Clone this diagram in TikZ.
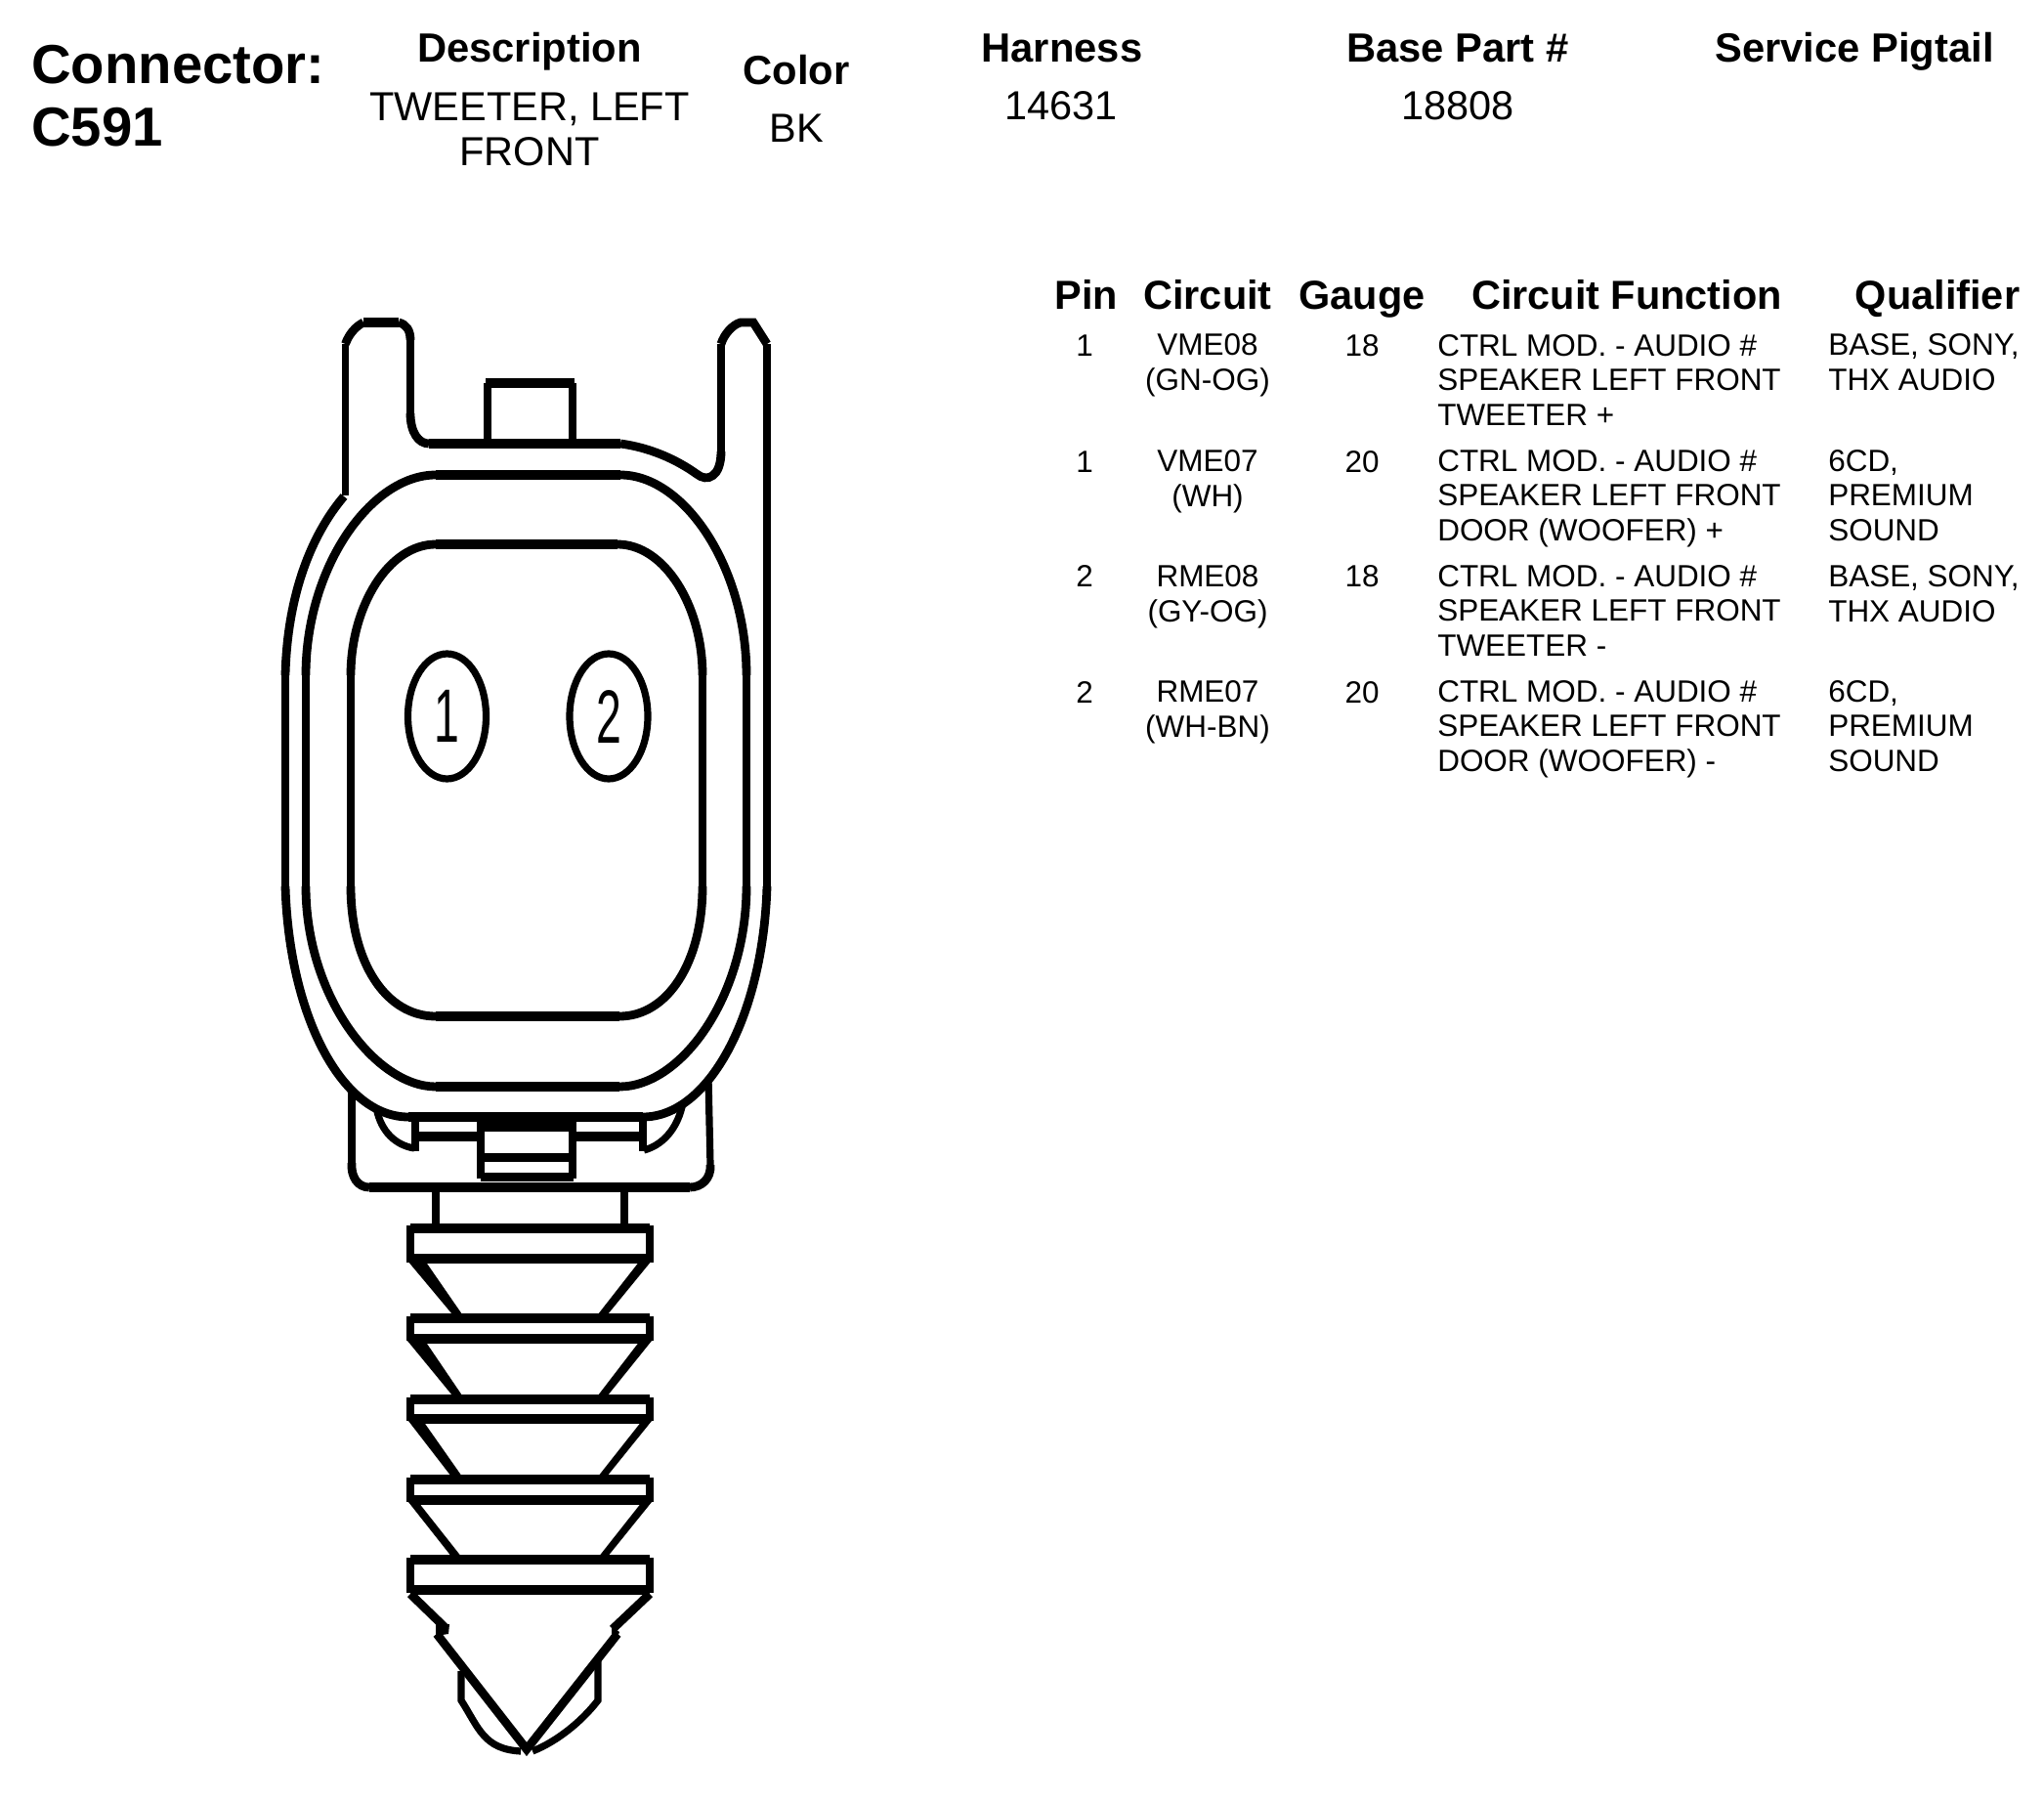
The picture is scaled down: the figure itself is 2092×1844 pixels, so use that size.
\documentclass[tikz,border=0pt]{standalone}
\usepackage{fontspec}
\setmainfont{Liberation Sans}
\usetikzlibrary{shapes.geometric}
\tikzset{
  thinwall/.style={line width=5.4pt},
  midwall/.style={line width=6.6pt},
  thickwall/.style={line width=8pt},
  bighead/.style={anchor=base west,inner sep=0pt,font=\fontsize{42.2}{47}\selectfont\bfseries},
  tophead/.style={anchor=base,inner sep=0pt,font=\fontsize{31.3}{34}\selectfont\bfseries},
  topcell/.style={anchor=base,inner sep=0pt,align=center,font=\fontsize{31.1}{34.5}\selectfont},
  tablehead/.style={anchor=base,inner sep=0pt,font=\fontsize{31.1}{36}\selectfont\bfseries},
  tablecell/.style={anchor=base,inner sep=0pt,align=center,font=\fontsize{23.6}{26.5}\selectfont},
  tableleft/.style={anchor=base west,inner sep=0pt,align=left,font=\fontsize{23.6}{26.5}\selectfont},
  pinhole/.style={draw,ellipse,line width=5.4pt,inner sep=0pt,minimum width=60pt,minimum height=96pt,font=\fontsize{58}{60}\selectfont}
}
\begin{document}
\begin{tikzpicture}[x=0.75pt,y=0.75pt,yscale=-1,xscale=1]
\useasboundingbox (0,0) rectangle (2092,1844);

% top tabs and outer wall
\draw [thinwall] (353.5,507) -- (353.5,352);
\draw [midwall] (353.5,352) .. controls (357,342) and (364,334) .. (372,330);
\draw [thickwall] (372,330) -- (408,330);
\draw [midwall] (408,330) .. controls (416,332) and (420,338) .. (420,348);
\draw [thinwall] (420,348) -- (420,423);
\draw [midwall] (420,423) .. controls (420,442) and (428,454) .. (439,454);
\draw [thickwall] (439,454) -- (635,454);
\draw [midwall] (635,454) .. controls (665,458) and (692,470) .. (713,485) .. controls (724,494) and (738,488) .. (738,462);
\draw [thinwall] (738,462) -- (738,352);
\draw [midwall] (738,352) .. controls (741,342) and (750,332) .. (758,330) -- (771,330) -- (785,352);
\draw [thinwall] (785,352) -- (785,907);
\draw [midwall] (785,907) .. controls (781,1040) and (725,1143) .. (658,1143);
\draw [thickwall] (658,1143) -- (418,1143);
\draw [midwall] (418,1143) .. controls (350,1143) and (296,1040) .. (292,907);
\draw [thinwall] (292,907) -- (292,691);
\draw [midwall] (292,691) .. controls (294,610) and (318,548) .. (352,508);

% small block between the tabs
\draw [thinwall] (499,454) -- (499,392);
\draw [thinwall] (586,454) -- (586,392);
\draw [thickwall] (497,392) -- (588,392);

% middle ring
\draw [thickwall] (446,486) -- (635,486);
\draw [midwall] (635,486) .. controls (700,486) and (764,580) .. (764,691);
\draw [thinwall] (764,691) -- (764,907);
\draw [midwall] (764,907) .. controls (764,1020) and (697,1112) .. (634,1112);
\draw [thickwall] (634,1112) -- (446,1112);
\draw [midwall] (446,1112) .. controls (385,1112) and (313,1020) .. (313,907);
\draw [thinwall] (313,907) -- (313,691);
\draw [midwall] (313,691) .. controls (313,580) and (380,486) .. (446,486);

% inner ring
\draw [thickwall] (446,557) -- (632,557);
\draw [midwall] (632,557) .. controls (680,557) and (719,620) .. (719,691);
\draw [thinwall] (719,691) -- (719,907);
\draw [midwall] (719,907) .. controls (719,985) and (683,1040) .. (634,1040);
\draw [thickwall] (634,1040) -- (446,1040);
\draw [midwall] (446,1040) .. controls (395,1040) and (359,985) .. (359,907);
\draw [thinwall] (359,907) -- (359,691);
\draw [midwall] (359,691) .. controls (359,620) and (398,557) .. (446,557);

% pins
\node [pinhole] (pinone) at (457.5,733) {\scalebox{0.6}[1]{1}};
\node [pinhole] (pintwo) at (623,733) {\scalebox{0.6}[1]{2}};

% housing below the rings
\draw [thinwall] (360,1117) -- (360,1190);
\draw [midwall] (360,1190) .. controls (359,1204) and (366,1215) .. (378,1215);
\draw [thickwall] (378,1215) -- (706,1215);
\draw [midwall] (706,1215) .. controls (718,1215) and (728,1206) .. (727,1192);
\draw [thinwall] (727,1192) -- (725,1103);

% latch detail
\draw [thinwall] (385.5,1135) .. controls (390,1158) and (405,1172) .. (424,1175);
\draw [thinwall] (699,1128) .. controls (694,1155) and (678,1172) .. (659,1177);
\draw [thinwall] (425,1145) -- (425,1178);
\draw [thinwall] (658,1145) -- (658,1178);
\draw [thickwall] (425,1163) -- (492,1163);
\draw [thickwall] (586,1163) -- (658,1163);
\draw [thinwall] (492,1143) -- (492,1206);
\draw [thinwall] (586,1143) -- (586,1206);
\fill (489,1142) rectangle (589,1158);
\fill (492,1180) rectangle (586,1189);
\fill (492,1200) rectangle (587,1209);

% neck
\draw [thinwall] (446,1215) -- (446,1254);
\draw [thinwall] (639,1215) -- (639,1254);

% first rib
\draw [thickwall] (420,1257) -- (665,1257);
\draw [thinwall] (420,1254) -- (420,1292);
\draw [thinwall] (665,1254) -- (665,1292);
\draw [thickwall] (420,1288) -- (665,1288);
\fill (417,1290) -- (435,1290) -- (473,1345) -- (463,1345) -- cycle;
\fill (667,1290) -- (655,1290) -- (612,1345) -- (622,1345) -- cycle;

% second rib
\draw [thickwall] (420,1349) -- (665,1349);
\draw [thinwall] (420,1347) -- (420,1372);
\draw [thinwall] (665,1347) -- (665,1372);
\draw [thickwall] (420,1370) -- (665,1370);
\fill (417,1372) -- (435,1372) -- (473,1428) -- (463,1428) -- cycle;
\fill (667,1372) -- (655,1372) -- (612,1428) -- (622,1428) -- cycle;

% third rib
\draw [thickwall] (420,1432) -- (665,1432);
\draw [thinwall] (420,1430) -- (420,1454);
\draw [thinwall] (665,1430) -- (665,1454);
\draw [thickwall] (420,1452) -- (665,1452);
\fill (418,1454) -- (433,1454) -- (473,1511) -- (462,1511) -- cycle;
\fill (667,1454) -- (657,1454) -- (612,1511) -- (621,1511) -- cycle;

% fourth rib
\draw [thickwall] (420,1514) -- (665,1514);
\draw [thinwall] (420,1512) -- (420,1537);
\draw [thinwall] (665,1512) -- (665,1537);
\draw [thickwall] (420,1535) -- (665,1535);
\fill (418,1537) -- (428,1537) -- (473,1594) -- (463,1594) -- cycle;
\fill (667,1537) -- (657,1537) -- (612,1594) -- (621,1594) -- cycle;

% fifth rib
\draw [thickwall] (420,1596) -- (665,1596);
\draw [thinwall] (420,1594) -- (420,1630);
\draw [thinwall] (665,1594) -- (665,1630);
\draw [thickwall] (420,1627) -- (665,1627);

% tip
\draw [midwall] (420,1631) -- (455,1665);
\draw [midwall] (665,1631) -- (627,1667);
\fill (446,1662) -- (460,1662) -- (459,1672) -- (446,1674) -- cycle;
\fill (626,1664) -- (634,1670) -- (632,1675) -- (626,1672) -- cycle;
\draw [midwall] (447,1672) -- (539,1790) -- (632,1672);
\draw [thinwall] (472,1710) -- (472,1740) .. controls (490,1768) and (495,1790) .. (533,1792);
\draw [thinwall] (612,1698) -- (612,1740) .. controls (595,1762) and (570,1782) .. (545,1792);

% Text Node
\node [bighead] (connlabel) at (32,86) {Connector:};
\node [bighead] (connid) at (32,150) {C591};
\node [tophead] (deschead) at (542,64) {Description};
\node [topcell] (descval) at (542,170) {TWEETER, LEFT\\FRONT};
\node [tophead] (colorhead) at (815,87) {Color};
\node [topcell] (colorval) at (815,146) {BK};
\node [tophead] (harnesshead) at (1087,64) {Harness};
\node [topcell] (harnessval) at (1086,123) {14631};
\node [tophead] (basehead) at (1492,64) {Base Part \#};
\node [topcell] (baseval) at (1492,123) {18808};
\node [tophead] (servicehead) at (1898,64) {Service Pigtail};

% Text Node
\node [tablehead] (pinhead) at (1112,316) {Pin};
\node [tablehead] (circuithead) at (1236,316) {Circuit};
\node [tablehead] (gaugehead) at (1394,316) {Gauge};
\node [tablehead] (functionhead) at (1665,316) {Circuit Function};
\node [tablehead] (qualifierhead) at (1983,316) {Qualifier};

% Text Node
\node [tablecell] (pina) at (1110,364) {1};
\node [tablecell] (circuita) at (1236,399) {VME08\\(GN-OG)};
\node [tablecell] (gaugea) at (1394,364) {18};
\node [tableleft] (functiona) at (1471,435) {CTRL MOD. - AUDIO \#\\SPEAKER LEFT FRONT\\TWEETER +};
\node [tableleft] (qualifiera) at (1871,399) {BASE, SONY,\\THX AUDIO};

\node [tablecell] (pinb) at (1110,483) {1};
\node [tablecell] (circuitb) at (1236,518) {VME07\\(WH)};
\node [tablecell] (gaugeb) at (1394,483) {20};
\node [tableleft] (functionb) at (1471,553) {CTRL MOD. - AUDIO \#\\SPEAKER LEFT FRONT\\DOOR (WOOFER) +};
\node [tableleft] (qualifierb) at (1871,553) {6CD,\\PREMIUM\\SOUND};

\node [tablecell] (pinc) at (1110,600) {2};
\node [tablecell] (circuitc) at (1236,636) {RME08\\(GY-OG)};
\node [tablecell] (gaugec) at (1394,600) {18};
\node [tableleft] (functionc) at (1471,671) {CTRL MOD. - AUDIO \#\\SPEAKER LEFT FRONT\\TWEETER -};
\node [tableleft] (qualifierc) at (1871,636) {BASE, SONY,\\THX AUDIO};

\node [tablecell] (pind) at (1110,719) {2};
\node [tablecell] (circuitd) at (1236,754) {RME07\\(WH-BN)};
\node [tablecell] (gauged) at (1394,719) {20};
\node [tableleft] (functiond) at (1471,789) {CTRL MOD. - AUDIO \#\\SPEAKER LEFT FRONT\\DOOR (WOOFER) -};
\node [tableleft] (qualifierd) at (1871,789) {6CD,\\PREMIUM\\SOUND};

\end{tikzpicture}
\end{document}
